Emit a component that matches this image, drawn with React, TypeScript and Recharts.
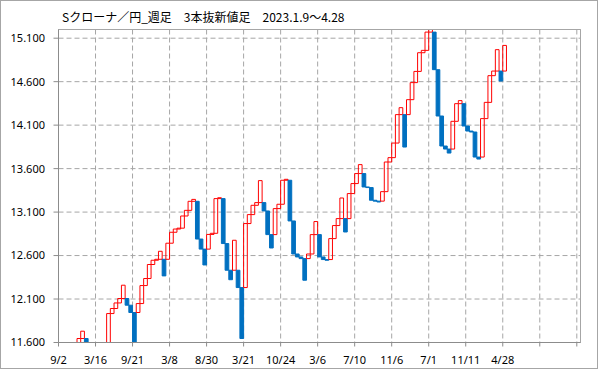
import React from 'react';
import { ComposedChart, Bar, XAxis, YAxis, CartesianGrid, Cell, ReferenceLine } from 'recharts';

// Three-line-break bars (index = column). Invisible (below range) columns are null.
const opens: (number | null)[] = [
  null, null, null, null, null,
  11.50, 11.646, 11.646,
  null, null, null, null, null,
  11.45, 11.933, 11.991, 12.055, 12.106, 12.106, 12.029, 11.945,
  11.945, 12.048, 12.255, 12.336, 12.497, 12.546, 12.557, 12.557, 12.557, 12.742,
  12.868, 12.905, 12.915, 13.055, 13.12, 13.224, 13.224, 12.79, 12.674, 12.674,
  12.843, 12.856, 13.255, 13.255, 12.738, 12.431, 12.431, 12.431, 12.232, 12.232,
  12.968, 13.071, 13.178, 13.209, 13.209, 13.113, 12.841, 12.841, 13.14, 13.19,
  13.466, 13.466, 12.998, 12.618, 12.584, 12.565, 12.565, 12.618, 12.841, 12.841,
  12.584, 12.554, 12.554, 12.795, 12.945, 13.025, 13.025, 13.025, 13.313, 13.428,
  13.543, 13.543, 13.389, 13.382, 13.236, 13.226, 13.226, 13.335, 13.676, 13.726,
  13.894, 14.221, 14.221, 14.221, 14.393, 14.589, 14.718, 14.933, 14.96, 15.17,
  15.17, 14.738, 14.205, 13.86, 13.825, 13.825, 14.144, 14.347, 14.347, 14.09,
  14.032, 14.021, 13.733, 13.733, 14.175, 14.362, 14.669, 14.722, 14.722, 14.722,
];
const closes: (number | null)[] = [
  null, null, null, null, null,
  11.646, 11.73, 11.45,
  null, null, null, null, null,
  11.933, 11.991, 12.055, 12.106, 12.259, 12.029, 11.945, 11.45,
  12.048, 12.255, 12.336, 12.497, 12.546, 12.557, 12.649, 12.366, 12.742, 12.868,
  12.905, 12.915, 13.055, 13.12, 13.224, 13.246, 12.79, 12.674, 12.492, 12.843,
  12.856, 13.255, 13.265, 12.738, 12.431, 12.322, 12.776, 12.232, 11.646, 12.968,
  13.071, 13.178, 13.209, 13.462, 13.113, 12.841, 12.687, 13.14, 13.19, 13.466,
  13.477, 12.998, 12.618, 12.584, 12.565, 12.316, 12.618, 12.841, 12.991, 12.584,
  12.554, 12.546, 12.795, 12.945, 13.025, 13.262, 12.871, 13.313, 13.428, 13.543,
  13.646, 13.389, 13.382, 13.236, 13.226, 13.216, 13.335, 13.676, 13.726, 13.894,
  14.221, 14.301, 13.848, 14.393, 14.589, 14.718, 14.933, 14.96, 15.17, 15.26,
  14.738, 14.205, 13.86, 13.825, 13.779, 14.144, 14.347, 14.382, 14.09, 14.032,
  14.021, 13.733, 13.71, 14.175, 14.362, 14.669, 14.722, 14.968, 14.607, 15.017,
];

const TOTAL_SLOTS = 141;
const xTickIndex = [0, 10, 20, 30, 40, 50, 60, 70, 80, 90, 100, 110, 120, 130, 140];
const xTickLabels = ['9/2', '3/16', '9/21', '3/8', '8/30', '3/21', '10/24', '3/6', '7/10', '11/6', '7/1', '11/11', '4/28', '', ''];
const yTicks = [11.6, 12.1, 12.6, 13.1, 13.6, 14.1, 14.6, 15.1];
const yDomain: [number, number] = [11.6, 15.2];
const title = 'Sクローナ／円_週足　3本抜新値足　2023.1.9～4.28';

const data = Array.from({ length: TOTAL_SLOTS }, (_, i) => {
  const o = opens[i] ?? null;
  const c = closes[i] ?? null;
  const ok = o != null && c != null;
  return {
    i,
    range: ok ? [Math.min(o as number, c as number), Math.max(o as number, c as number)] : null,
    up: ok ? (c as number) > (o as number) : false,
  };
});

const RED = '#ff0000';
const BLUE = '#0070c0';
const GRID = '#a6a6a6';
const AXIS = '#8c8c8c';
const tickFont = { fill: '#000', fontSize: 11, fontFamily: '"Noto Sans", sans-serif' };

export default function App() {
  return (
    <div style={{ position: 'absolute', left: 0, top: 0, width: 599, height: 369, background: '#fff' }}>
      <div
        style={{
          position: 'absolute', left: 0, top: 0, width: 598, height: 369,
          boxSizing: 'border-box', border: '1px solid #a6a6a6',
        }}
      />
      <div
        style={{
          position: 'absolute', left: 62, top: 8, fontSize: 12, lineHeight: '18px',
          fontFamily: '"Noto Sans CJK JP", sans-serif', color: '#000', whiteSpace: 'pre',
        }}
      >
        {title}
      </div>
      <div style={{ position: 'absolute', left: 0, top: 0 }}>
        <ComposedChart
          width={599}
          height={369}
          data={data}
          margin={{ top: 29.5, right: 18.5, bottom: 0, left: 0 }}
          barCategoryGap={0}
          barGap={0}
        >
          <CartesianGrid xAxisId="num" yAxisId="y" stroke={GRID} strokeDasharray="5 3" />
          <XAxis
            xAxisId="num"
            dataKey="i"
            type="number"
            domain={[0, TOTAL_SLOTS]}
            allowDataOverflow
            ticks={xTickIndex}
            interval={0}
            tickFormatter={(v: number) => xTickLabels[xTickIndex.indexOf(v)] ?? ''}
            height={26.5}
            tickSize={4}
            tickMargin={10}
            axisLine={{ stroke: AXIS }}
            tickLine={{ stroke: AXIS }}
            tick={tickFont}
          />
          <XAxis xAxisId="cat" dataKey="i" type="category" orientation="top" height={0} hide />
          <YAxis
            yAxisId="y"
            domain={yDomain}
            allowDataOverflow
            ticks={yTicks}
            interval={0}
            tickFormatter={(v: number) => v.toFixed(3)}
            width={58.5}
            tickSize={5}
            tickMargin={8.5}
            axisLine={{ stroke: AXIS }}
            tickLine={{ stroke: AXIS }}
            tick={tickFont}
          />
          <ReferenceLine xAxisId="num" yAxisId="y" y={yDomain[1]} stroke={GRID} />
          <ReferenceLine xAxisId="num" yAxisId="y" x={TOTAL_SLOTS} stroke={GRID} />
          <Bar xAxisId="cat" yAxisId="y" dataKey="range" barSize={3.7} isAnimationActive={false}>
            {data.map((d) => (
              <Cell
                key={d.i}
                fill={d.up ? 'none' : BLUE}
                stroke={d.up ? RED : BLUE}
                strokeWidth={1}
              />
            ))}
          </Bar>
        </ComposedChart>
      </div>
    </div>
  );
}
